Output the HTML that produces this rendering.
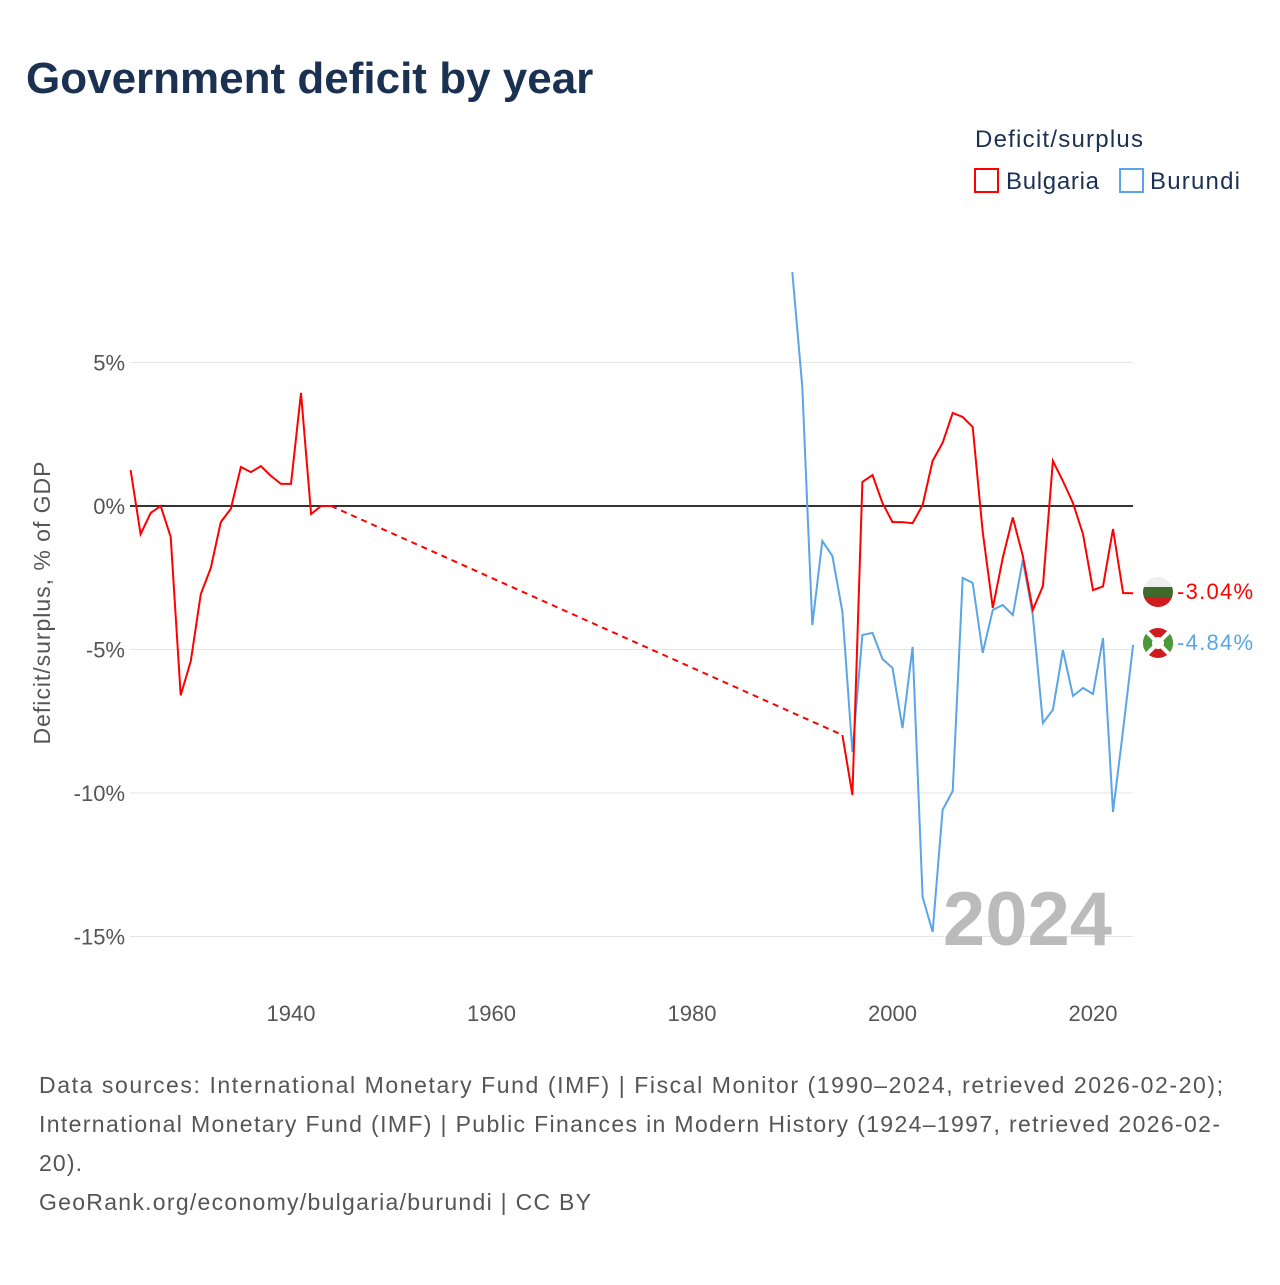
<!DOCTYPE html>
<html><head><meta charset="utf-8"><style>
body{margin:0;background:#fff;font-family:"Liberation Sans",sans-serif}
svg text{font-family:"Liberation Sans",sans-serif}
</style></head><body>
<svg id="chart" width="1280" height="1280" viewBox="0 0 1280 1280">
<rect width="1280" height="1280" fill="#fff"/>
<text x="26" y="93" font-size="44" font-weight="bold" fill="#1b3152">Government deficit by year</text>
<text x="975" y="147" font-size="24" fill="#1b3152" textLength="168">Deficit/surplus</text>
<g><rect x="975" y="169" width="23" height="23" fill="none" stroke="#f00" stroke-width="2"/><text x="1006" y="189" font-size="24" fill="#1b3152" textLength="93">Bulgaria</text></g>
<g><rect x="1120" y="169" width="23" height="23" fill="none" stroke="#5aa5e8" stroke-width="2"/><text x="1150" y="189" font-size="24" fill="#1b3152" textLength="90">Burundi</text></g>
<text transform="translate(50,603) rotate(-90)" text-anchor="middle" font-size="23" fill="#555" textLength="283">Deficit/surplus, % of GDP</text>
<g id="grid"></g><g id="series"></g>
<text x="1112" y="945" text-anchor="end" font-size="76" font-weight="bold" fill="#bbb">2024</text>
<g><clipPath id="cb"><circle cx="1158" cy="592" r="15"/></clipPath><g clip-path="url(#cb)"><rect x="1143" y="577" width="30" height="10" fill="#eee"/><rect x="1143" y="587" width="30" height="10" fill="#3e6b2c"/><rect x="1143" y="597" width="30" height="10" fill="#d01c1f"/></g></g>
<g><clipPath id="cu"><circle cx="1158" cy="643" r="15"/></clipPath><g clip-path="url(#cu)"><rect x="1143" y="628" width="30" height="30" fill="#d01c1f"/><polygon points="1143,628 1158,643 1143,658" fill="#4a9a3a"/><polygon points="1173,628 1158,643 1173,658" fill="#4a9a3a"/><line x1="1143" y1="628" x2="1173" y2="658" stroke="#fff" stroke-width="4"/><line x1="1173" y1="628" x2="1143" y2="658" stroke="#fff" stroke-width="4"/><circle cx="1158" cy="643" r="6" fill="#fff"/></g></g>
<text x="1177" y="599" font-size="22" fill="#f00" textLength="76">-3.04%</text>
<text x="1177" y="650" font-size="22" fill="#5aa5e8" textLength="76">-4.84%</text>
<g font-size="23" fill="#555">
<text x="39" y="1093" textLength="1184">Data sources: International Monetary Fund (IMF) | Fiscal Monitor (1990–2024, retrieved 2026-02-20);</text>
<text x="39" y="1132" textLength="1181">International Monetary Fund (IMF) | Public Finances in Modern History (1924–1997, retrieved 2026-02-</text>
<text x="39" y="1171" textLength="43">20).</text>
<text x="39" y="1210" textLength="552">GeoRank.org/economy/bulgaria/burundi | CC BY</text>
</g>
</svg>
<script>
const yTicks=[5,0,-5,-10,-15];
const xTicks=[1940,1960,1980,2000,2020];
const bgYearsA=[1924,1925,1926,1927,1928,1929,1930,1931,1932,1933,1934,1935,1936,1937,1938,1939,1940,1941,1942,1943,1944];
const bgValsA=[1.25,-0.98,-0.24,0,-1.08,-6.6,-5.4,-3.07,-2.16,-0.56,-0.1,1.36,1.18,1.39,1.05,0.77,0.77,3.94,-0.28,0,0];
const bgYearsB=[1995,1996,1997,1998,1999,2000,2001,2002,2003,2004,2005,2006,2007,2008,2009,2010,2011,2012,2013,2014,2015,2016,2017,2018,2019,2020,2021,2022,2023,2024];
const bgValsB=[-7.98,-10.07,0.84,1.08,0.1,-0.56,-0.56,-0.6,0.03,1.57,2.2,3.24,3.1,2.75,-0.9,-3.55,-1.8,-0.4,-1.74,-3.62,-2.79,1.57,0.87,0.1,-0.98,-2.93,-2.8,-0.8,-3.03,-3.04];
const buYears=[1990,1991,1992,1993,1994,1995,1996,1997,1998,1999,2000,2001,2002,2003,2004,2005,2006,2007,2008,2009,2010,2011,2012,2013,2014,2015,2016,2017,2018,2019,2020,2021,2022,2023,2024];
const buVals=[8.15,4.15,-4.15,-1.22,-1.74,-3.69,-8.57,-4.49,-4.42,-5.33,-5.64,-7.74,-4.91,-13.62,-14.84,-10.59,-9.93,-2.51,-2.68,-5.12,-3.62,-3.45,-3.8,-1.88,-3.8,-7.56,-7.1,-5.02,-6.62,-6.34,-6.55,-4.6,-10.66,-7.8,-4.84];
const NS="http://www.w3.org/2000/svg";
const X=y=>130.6+(y-1924)*10.025;
const Y=v=>506-v*28.7;
const grid=document.getElementById('grid'),ser=document.getElementById('series');
function mk(tag,attrs,parent){const e=document.createElementNS(NS,tag);for(const k in attrs)e.setAttribute(k,attrs[k]);parent.appendChild(e);return e;}
yTicks.forEach(t=>{
 const l=mk('line',{x1:130,x2:1133,y1:Y(t),y2:Y(t),stroke:t===0?'#333':'#e6e6e6','stroke-width':t===0?2:1},grid);
 
 
 const tx=mk('text',{x:125,y:Y(t)+8,'text-anchor':'end','font-size':22,fill:'#555'},grid);
 tx.textContent=t+'%';
 
 
});
xTicks.forEach(t=>{
 const tx=mk('text',{x:X(t),y:1021,'text-anchor':'middle','font-size':22,fill:'#555'},grid);
 tx.textContent=t;
 
 
});
function pts(ys,vs){return ys.map((y,i)=>X(y).toFixed(1)+','+Y(vs[i]).toFixed(1)).join(' ');}
let p=mk('polyline',{points:pts(buYears,buVals),fill:'none',stroke:'#5aa5e8','stroke-width':2},ser);


p=mk('polyline',{points:pts(bgYearsA,bgValsA),fill:'none',stroke:'#f00','stroke-width':2},ser);


const la=bgYearsA.length-1;
p=mk('line',{x1:X(bgYearsA[la]),y1:Y(bgValsA[la]),x2:X(bgYearsB[0]),y2:Y(bgValsB[0]),stroke:'#f00','stroke-width':2,'stroke-dasharray':'6,5'},ser);


p=mk('polyline',{points:pts(bgYearsB,bgValsB),fill:'none',stroke:'#f00','stroke-width':2},ser);


</script>
</body></html>
